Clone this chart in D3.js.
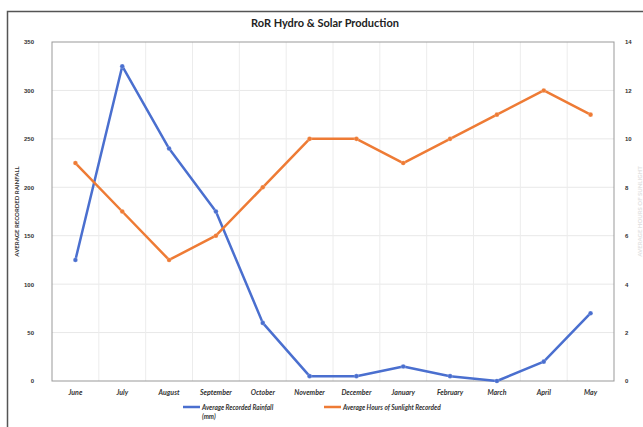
<!DOCTYPE html>
<html>
<head>
<meta charset="utf-8">
<script src="https://d3js.org/d3.v7.min.js"></script>
<style>
  body { margin: 0; background: #fff; }
  svg { font-family: "Lato", "DejaVu Sans", sans-serif; }
  .tick text { font-size: 6px; font-weight: bold; fill: #333; }
  .xlab { font-size: 7px; font-weight: bold; font-style: italic; fill: #333; }
</style>
</head>
<body>
<script>
var months = ["June", "July", "August", "September", "October", "November",
              "December", "January", "February", "March", "April", "May"];
var rainfall = [125, 325, 240, 175, 60, 5, 5, 15, 5, 0, 20, 70];
var sunlight = [9, 7, 5, 6, 8, 10, 10, 9, 10, 11, 12, 11];
var leftTicks = [0, 50, 100, 150, 200, 250, 300, 350];
var rightTicks = [0, 2, 4, 6, 8, 10, 12, 14];

var W = 643, H = 427;
var plot = { left: 52, right: 614, top: 42, bottom: 381 };

var svg = d3.select("body").append("svg")
    .attr("width", W)
    .attr("height", H);

// outer chart border
svg.append("rect")
    .attr("x", 7.5).attr("y", 11.5)
    .attr("width", W + 10).attr("height", H + 10)
    .attr("fill", "none")
    .attr("stroke", "#555")
    .attr("stroke-width", 1.5);

var x = d3.scaleBand().domain(months).range([plot.left, plot.right]);
var yL = d3.scaleLinear().domain([0, 350]).range([plot.bottom, plot.top]);
var yR = d3.scaleLinear().domain([0, 14]).range([plot.bottom, plot.top]);

// gridlines
svg.append("g").selectAll("line")
    .data(leftTicks.slice(1, -1))
    .enter().append("line")
    .attr("x1", plot.left).attr("x2", plot.right)
    .attr("y1", function(d) { return yL(d); })
    .attr("y2", function(d) { return yL(d); })
    .attr("stroke", "#e8e8e8");

svg.append("g").selectAll("line")
    .data(months.slice(1))
    .enter().append("line")
    .attr("x1", function(d) { return x(d); })
    .attr("x2", function(d) { return x(d); })
    .attr("y1", plot.top).attr("y2", plot.bottom)
    .attr("stroke", "#ececec");

// plot frame
svg.append("rect")
    .attr("x", plot.left).attr("y", plot.top)
    .attr("width", plot.right - plot.left)
    .attr("height", plot.bottom - plot.top)
    .attr("fill", "none")
    .attr("stroke", "#999")
    .attr("stroke-width", 1);

// axes
var leftAxis = svg.append("g")
    .attr("transform", "translate(" + (plot.left - 15) + ",0)")
    .call(d3.axisLeft(yL).tickValues(leftTicks).tickSize(0));
leftAxis.select(".domain").remove();

var rightAxis = svg.append("g")
    .attr("transform", "translate(" + (plot.right + 8) + ",0)")
    .call(d3.axisRight(yR).tickValues(rightTicks).tickSize(0));
rightAxis.select(".domain").remove();

svg.append("g").selectAll("text")
    .data(months)
    .enter().append("text")
    .attr("class", "xlab")
    .attr("x", function(d) { return x(d) + x.bandwidth() / 2; })
    .attr("y", plot.bottom + 14)
    .attr("text-anchor", "middle")
    .text(function(d) { return d; });

// axis titles
svg.append("text")
    .attr("transform", "translate(19," + ((plot.top + plot.bottom) / 2) + ") rotate(-90)")
    .attr("text-anchor", "middle")
    .style("font-size", "6px")
    .style("font-weight", "bold")
    .style("fill", "#333")
    .text("AVERAGE RECORDED RAINFALL");

svg.append("text")
    .attr("transform", "translate(642," + ((plot.top + plot.bottom) / 2) + ") rotate(-90)")
    .attr("text-anchor", "middle")
    .style("font-size", "6px")
    .style("font-weight", "bold")
    .style("fill", "#e2e2e2")
    .text("AVERAGE HOURS OF SUNLIGHT");

svg.append("text")
    .attr("x", 325).attr("y", 27)
    .attr("text-anchor", "middle")
    .style("font-size", "11px")
    .style("font-weight", "bold")
    .style("fill", "#222")
    .text("RoR Hydro & Solar Production");

// series
var cx = function(d, i) { return x(months[i]) + x.bandwidth() / 2; };

var series = [
  { values: rainfall, scale: yL, color: "#4a6fcf" },
  { values: sunlight, scale: yR, color: "#ee7b35" }
];

series.forEach(function(s) {
  var line = d3.line()
      .x(cx)
      .y(function(d) { return s.scale(d); });
  svg.append("path")
      .datum(s.values)
      .attr("d", line)
      .attr("fill", "none")
      .attr("stroke", s.color)
      .attr("stroke-width", 2.5)
      .attr("stroke-linejoin", "round");
  svg.append("g").selectAll("circle")
      .data(s.values)
      .enter().append("circle")
      .attr("cx", cx)
      .attr("cy", function(d) { return s.scale(d); })
      .attr("r", 2.3)
      .attr("fill", s.color)
      .attr("stroke", "#fff")
      .attr("stroke-opacity", 0.4)
      .attr("stroke-width", 0.5);
});

// legend
var legend = svg.append("g");
legend.append("line")
    .attr("x1", 183).attr("x2", 200).attr("y1", 407).attr("y2", 407)
    .attr("stroke", "#4a6fcf").attr("stroke-width", 2.5);
legend.append("text")
    .attr("x", 202).attr("y", 409.5)
    .style("font-size", "6.5px").style("font-weight", "bold").style("font-style", "italic")
    .style("fill", "#333")
    .text("Average Recorded Rainfall");
legend.append("text")
    .attr("x", 202).attr("y", 419)
    .style("font-size", "6.5px").style("font-weight", "bold").style("font-style", "italic")
    .style("fill", "#333")
    .text("(mm)");
legend.append("line")
    .attr("x1", 324).attr("x2", 341).attr("y1", 407).attr("y2", 407)
    .attr("stroke", "#ee7b35").attr("stroke-width", 2.5);
legend.append("text")
    .attr("x", 343).attr("y", 409.5)
    .style("font-size", "6.5px").style("font-weight", "bold").style("font-style", "italic")
    .style("fill", "#333")
    .text("Average Hours of Sunlight Recorded");
</script>
</body>
</html>
